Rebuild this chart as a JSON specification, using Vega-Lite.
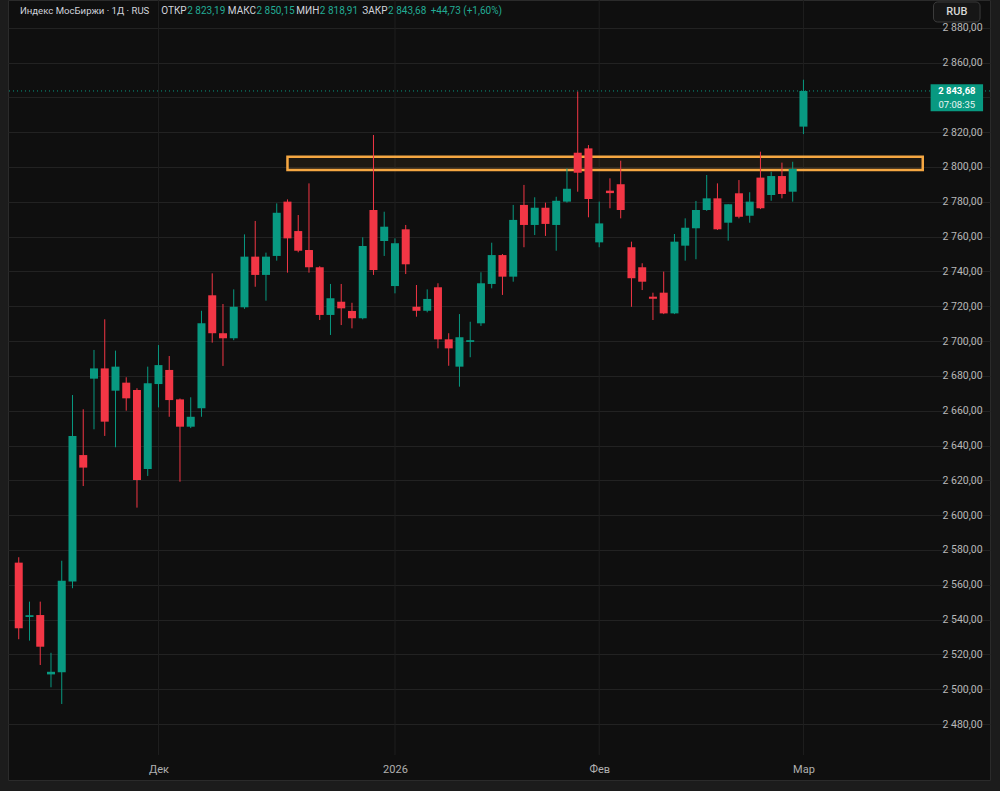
{
  "$schema": "https://vega.github.io/schema/vega-lite/v6.json",
  "width": 982,
  "height": 780,
  "autosize": {"type": "none"},
  "padding": {"left": 8, "top": 0, "right": 10, "bottom": 11},
  "background": "#1c1c1c",
  "config": {
    "view": {"fill": "#0f0f0f", "stroke": "#2b2b2b"},
    "font": "Roboto",
    "text": {"font": "Roboto"}
  },
  "datasets": {
    "candles": [
      {"i": 0, "o": 2572.7, "h": 2575.8, "l": 2528.7, "c": 2535.0},
      {"i": 1, "o": 2541.5, "h": 2550.3, "l": 2527.9, "c": 2542.5},
      {"i": 2, "o": 2542.6, "h": 2550.3, "l": 2513.9, "c": 2524.4},
      {"i": 3, "o": 2508.5, "h": 2520.9, "l": 2501.1, "c": 2510.0},
      {"i": 4, "o": 2509.7, "h": 2573.8, "l": 2491.5, "c": 2562.3},
      {"i": 5, "o": 2561.8, "h": 2669.0, "l": 2558.0, "c": 2645.5},
      {"i": 6, "o": 2634.5, "h": 2660.8, "l": 2616.7, "c": 2627.3},
      {"i": 7, "o": 2678.4, "h": 2694.9, "l": 2649.3, "c": 2684.3},
      {"i": 8, "o": 2684.3, "h": 2712.5, "l": 2645.5, "c": 2653.7},
      {"i": 9, "o": 2671.5, "h": 2694.5, "l": 2639.0, "c": 2685.3},
      {"i": 10, "o": 2676.1, "h": 2679.2, "l": 2660.0, "c": 2667.1},
      {"i": 11, "o": 2671.9, "h": 2672.9, "l": 2604.3, "c": 2620.2},
      {"i": 12, "o": 2626.5, "h": 2685.3, "l": 2622.5, "c": 2675.7},
      {"i": 13, "o": 2675.3, "h": 2697.7, "l": 2661.9, "c": 2686.2},
      {"i": 14, "o": 2683.4, "h": 2691.4, "l": 2656.5, "c": 2666.1},
      {"i": 15, "o": 2666.5, "h": 2667.0, "l": 2619.2, "c": 2650.8},
      {"i": 16, "o": 2650.8, "h": 2667.7, "l": 2650.0, "c": 2656.5},
      {"i": 17, "o": 2661.4, "h": 2717.4, "l": 2656.5, "c": 2710.2},
      {"i": 18, "o": 2726.3, "h": 2738.9, "l": 2699.1, "c": 2704.5},
      {"i": 19, "o": 2704.5, "h": 2721.3, "l": 2685.7, "c": 2701.6},
      {"i": 20, "o": 2701.6, "h": 2729.7, "l": 2700.5, "c": 2719.7},
      {"i": 21, "o": 2719.4, "h": 2761.3, "l": 2718.5, "c": 2748.5},
      {"i": 22, "o": 2748.5, "h": 2769.0, "l": 2731.2, "c": 2738.0},
      {"i": 23, "o": 2738.0, "h": 2750.8, "l": 2723.2, "c": 2748.5},
      {"i": 24, "o": 2748.9, "h": 2779.1, "l": 2746.2, "c": 2773.7},
      {"i": 25, "o": 2780.1, "h": 2781.4, "l": 2739.3, "c": 2759.0},
      {"i": 26, "o": 2763.2, "h": 2772.4, "l": 2751.0, "c": 2751.9},
      {"i": 27, "o": 2752.3, "h": 2790.6, "l": 2739.3, "c": 2742.4},
      {"i": 28, "o": 2742.4, "h": 2743.0, "l": 2712.1, "c": 2715.0},
      {"i": 29, "o": 2715.0, "h": 2732.8, "l": 2703.5, "c": 2724.6},
      {"i": 30, "o": 2722.6, "h": 2732.8, "l": 2709.2, "c": 2718.8},
      {"i": 31, "o": 2717.3, "h": 2722.0, "l": 2707.3, "c": 2713.1},
      {"i": 32, "o": 2713.1, "h": 2759.6, "l": 2712.5, "c": 2754.6},
      {"i": 33, "o": 2775.3, "h": 2818.4, "l": 2738.0, "c": 2740.8},
      {"i": 34, "o": 2757.5, "h": 2774.3, "l": 2748.9, "c": 2765.7},
      {"i": 35, "o": 2731.6, "h": 2759.0, "l": 2727.4, "c": 2756.2},
      {"i": 36, "o": 2764.2, "h": 2766.7, "l": 2738.5, "c": 2744.1},
      {"i": 37, "o": 2719.7, "h": 2732.2, "l": 2714.0, "c": 2717.4},
      {"i": 38, "o": 2717.4, "h": 2729.7, "l": 2716.5, "c": 2724.2},
      {"i": 39, "o": 2730.9, "h": 2733.2, "l": 2695.8, "c": 2701.0},
      {"i": 40, "o": 2701.0, "h": 2704.5, "l": 2685.8, "c": 2695.8},
      {"i": 41, "o": 2685.3, "h": 2715.5, "l": 2673.8, "c": 2702.2},
      {"i": 42, "o": 2699.5, "h": 2711.1, "l": 2690.7, "c": 2700.5},
      {"i": 43, "o": 2710.2, "h": 2739.5, "l": 2708.7, "c": 2733.2},
      {"i": 44, "o": 2732.8, "h": 2756.5, "l": 2730.3, "c": 2749.4},
      {"i": 45, "o": 2749.4, "h": 2750.0, "l": 2726.5, "c": 2737.0},
      {"i": 46, "o": 2737.0, "h": 2778.2, "l": 2734.1, "c": 2769.6},
      {"i": 47, "o": 2778.2, "h": 2789.7, "l": 2753.9, "c": 2766.7},
      {"i": 48, "o": 2766.7, "h": 2782.6, "l": 2760.9, "c": 2776.6},
      {"i": 49, "o": 2776.6, "h": 2779.5, "l": 2760.4, "c": 2767.3},
      {"i": 50, "o": 2766.7, "h": 2782.9, "l": 2751.9, "c": 2780.6},
      {"i": 51, "o": 2780.1, "h": 2799.2, "l": 2779.5, "c": 2787.5},
      {"i": 52, "o": 2808.2, "h": 2843.3, "l": 2785.8, "c": 2796.7},
      {"i": 53, "o": 2810.7, "h": 2812.6, "l": 2771.1, "c": 2781.6},
      {"i": 54, "o": 2756.7, "h": 2780.1, "l": 2753.9, "c": 2767.6},
      {"i": 55, "o": 2786.4, "h": 2793.5, "l": 2776.3, "c": 2785.0},
      {"i": 56, "o": 2790.1, "h": 2803.6, "l": 2770.5, "c": 2775.3},
      {"i": 57, "o": 2753.9, "h": 2757.1, "l": 2719.7, "c": 2736.1},
      {"i": 58, "o": 2742.4, "h": 2744.7, "l": 2729.3, "c": 2734.1},
      {"i": 59, "o": 2725.5, "h": 2727.8, "l": 2712.1, "c": 2724.3},
      {"i": 60, "o": 2727.8, "h": 2739.9, "l": 2715.5, "c": 2715.9},
      {"i": 61, "o": 2715.9, "h": 2761.5, "l": 2715.5, "c": 2757.1},
      {"i": 62, "o": 2754.8, "h": 2770.5, "l": 2746.2, "c": 2765.1},
      {"i": 63, "o": 2764.8, "h": 2780.5, "l": 2747.0, "c": 2775.3},
      {"i": 64, "o": 2775.3, "h": 2795.4, "l": 2774.8, "c": 2782.0},
      {"i": 65, "o": 2782.0, "h": 2790.6, "l": 2763.8, "c": 2764.2},
      {"i": 66, "o": 2768.0, "h": 2778.6, "l": 2757.7, "c": 2778.6},
      {"i": 67, "o": 2784.9, "h": 2792.5, "l": 2770.5, "c": 2771.4},
      {"i": 68, "o": 2772.0, "h": 2785.5, "l": 2768.0, "c": 2780.1},
      {"i": 69, "o": 2793.9, "h": 2808.8, "l": 2775.8, "c": 2776.3},
      {"i": 70, "o": 2783.9, "h": 2797.3, "l": 2780.6, "c": 2794.8},
      {"i": 71, "o": 2794.8, "h": 2802.5, "l": 2782.0, "c": 2784.5},
      {"i": 72, "o": 2785.8, "h": 2803.0, "l": 2780.1, "c": 2798.95},
      {"i": 73, "o": 2823.19, "h": 2850.15, "l": 2818.91, "c": 2843.68}
    ]
  },
  "layer": [
    {
      "data": {"values": [{"i": 13}, {"i": 35}, {"i": 54}, {"i": 73}]},
      "mark": {"type": "rule", "color": "#1f1f1f", "strokeWidth": 1},
      "encoding": {
        "x": {"field": "i", "type": "quantitative", "scale": {"domain": [-0.534, 89.89], "nice": false, "zero": false},
          "axis": {"orient": "bottom", "offset": -30, "values": [13, 35, 54, 73], "tickCount": 10, "title": null, "grid": false, "domain": false, "ticks": false,
            "labelExpr": "datum.value == 13 ? 'Дек' : datum.value == 35 ? '2026' : datum.value == 54 ? 'Фев' : 'Мар'",
            "labelColor": "#b0b0b0", "labelFont": "Roboto", "labelFontSize": 11, "labelPadding": 13}},
        "y": {"datum": 2895.9, "type": "quantitative", "scale": {"domain": [2447.83, 2895.94], "nice": false, "zero": false},
          "axis": {"orient": "right", "offset": -57, "title": null, "domain": false, "ticks": false, "labelOverlap": false, "tickCount": 40,
            "values": [2480, 2500, 2520, 2540, 2560, 2580, 2600, 2620, 2640, 2660, 2680, 2700, 2720, 2740, 2760, 2780, 2800, 2820, 2840, 2860, 2880],
            "labelExpr": "datum.value == 2840 ? '' : replace(replace(format(datum.value, ',.2f'), ',', ' '), '.', ',')",
            "grid": true, "gridColor": "#222222", "gridWidth": 1,
            "labelColor": "#b8b8b8", "labelFont": "Roboto", "labelFontSize": 10.5, "labelPadding": 9}},
        "y2": {"datum": 2462.2}
      }
    },
    {
      "data": {"values": [{"a": 25, "b": 84.1, "lo": 2798.3, "hi": 2805.9}]},
      "mark": {"type": "rect", "fill": "#f5a742", "fillOpacity": 0.07, "stroke": "#f5a742", "strokeWidth": 2.5},
      "encoding": {
        "x": {"field": "a", "type": "quantitative"},
        "x2": {"field": "b"},
        "y": {"field": "lo", "type": "quantitative"},
        "y2": {"field": "hi"}
      }
    },
    {
      "data": {"values": [{"p": 2843.68}]},
      "mark": {"type": "rule", "color": "#089981", "strokeWidth": 1, "strokeDash": [1, 3]},
      "encoding": {
        "y": {"field": "p", "type": "quantitative"}
      }
    },
    {
      "data": {"name": "candles"},
      "mark": {"type": "rule", "strokeWidth": 1},
      "encoding": {
        "x": {"field": "i", "type": "quantitative"},
        "y": {"field": "l", "type": "quantitative"},
        "y2": {"field": "h"},
        "color": {"condition": {"test": "datum.c >= datum.o", "value": "#089981"}, "value": "#f23645"}
      }
    },
    {
      "data": {"name": "candles"},
      "mark": {"type": "bar", "size": 8},
      "encoding": {
        "x": {"field": "i", "type": "quantitative"},
        "y": {"field": "o", "type": "quantitative"},
        "y2": {"field": "c"},
        "color": {"condition": {"test": "datum.c >= datum.o", "value": "#089981"}, "value": "#f23645"}
      }
    },
    {
      "data": {"values": [{}]},
      "mark": {"type": "rect", "fill": "#089981"},
      "encoding": {
        "x": {"datum": 84.83, "type": "quantitative"},
        "x2": {"datum": 89.71},
        "y": {"datum": 2832.0, "type": "quantitative"},
        "y2": {"datum": 2847.6}
      }
    },
    {
      "data": {"values": [{}]},
      "mark": {"type": "text", "text": "2 843,68", "color": "#ffffff", "fontWeight": "bold", "fontSize": 9.5, "align": "center", "baseline": "middle"},
      "encoding": {
        "x": {"datum": 87.27, "type": "quantitative"},
        "y": {"datum": 2843.8, "type": "quantitative"}
      }
    },
    {
      "data": {"values": [{}]},
      "mark": {"type": "text", "text": "07:08:35", "color": "#e8f5f2", "fontSize": 9.5, "align": "center", "baseline": "middle"},
      "encoding": {
        "x": {"datum": 87.27, "type": "quantitative"},
        "y": {"datum": 2835.6, "type": "quantitative"}
      }
    },
    {
      "data": {"values": [{}]},
      "mark": {"type": "rect", "fill": "#161616", "stroke": "#3b3b3b", "strokeWidth": 1, "cornerRadius": 4},
      "encoding": {
        "x": {"datum": 85.1, "type": "quantitative"},
        "x2": {"datum": 89.43},
        "y": {"datum": 2883.3, "type": "quantitative"},
        "y2": {"datum": 2894.8}
      }
    },
    {
      "data": {"values": [{}]},
      "mark": {"type": "text", "text": "RUB", "color": "#d8d8d8", "fontSize": 11, "fontWeight": 500, "align": "center", "baseline": "middle"},
      "encoding": {
        "x": {"datum": 87.27, "type": "quantitative"},
        "y": {"datum": 2888.8, "type": "quantitative"}
      }
    },
    {
      "data": {"values": [{}]},
      "mark": {"type": "text", "text": "Индекс МосБиржи · 1Д · RUS", "color": "#d1d4dc", "fontSize": 9.6, "align": "left", "baseline": "alphabetic"},
      "encoding": {"x": {"datum": 0.11, "type": "quantitative"}, "y": {"datum": 2887.9, "type": "quantitative"}}
    },
    {
      "data": {"values": [{}]},
      "mark": {"type": "text", "text": "ОТКР", "color": "#d1d4dc", "fontSize": 10, "align": "right", "baseline": "alphabetic"},
      "encoding": {"x": {"datum": 15.62, "type": "quantitative"}, "y": {"datum": 2887.9, "type": "quantitative"}}
    },
    {
      "data": {"values": [{}]},
      "mark": {"type": "text", "text": "2 823,19", "color": "#22ab94", "fontSize": 10, "align": "left", "baseline": "alphabetic"},
      "encoding": {"x": {"datum": 15.67, "type": "quantitative"}, "y": {"datum": 2887.9, "type": "quantitative"}}
    },
    {
      "data": {"values": [{}]},
      "mark": {"type": "text", "text": "МАКС", "color": "#d1d4dc", "fontSize": 10, "align": "right", "baseline": "alphabetic"},
      "encoding": {"x": {"datum": 22.07, "type": "quantitative"}, "y": {"datum": 2887.9, "type": "quantitative"}}
    },
    {
      "data": {"values": [{}]},
      "mark": {"type": "text", "text": "2 850,15", "color": "#22ab94", "fontSize": 10, "align": "left", "baseline": "alphabetic"},
      "encoding": {"x": {"datum": 22.12, "type": "quantitative"}, "y": {"datum": 2887.9, "type": "quantitative"}}
    },
    {
      "data": {"values": [{}]},
      "mark": {"type": "text", "text": "МИН", "color": "#d1d4dc", "fontSize": 10, "align": "right", "baseline": "alphabetic"},
      "encoding": {"x": {"datum": 27.96, "type": "quantitative"}, "y": {"datum": 2887.9, "type": "quantitative"}}
    },
    {
      "data": {"values": [{}]},
      "mark": {"type": "text", "text": "2 818,91", "color": "#22ab94", "fontSize": 10, "align": "left", "baseline": "alphabetic"},
      "encoding": {"x": {"datum": 28.01, "type": "quantitative"}, "y": {"datum": 2887.9, "type": "quantitative"}}
    },
    {
      "data": {"values": [{}]},
      "mark": {"type": "text", "text": "ЗАКР", "color": "#d1d4dc", "fontSize": 10, "align": "right", "baseline": "alphabetic"},
      "encoding": {"x": {"datum": 34.31, "type": "quantitative"}, "y": {"datum": 2887.9, "type": "quantitative"}}
    },
    {
      "data": {"values": [{}]},
      "mark": {"type": "text", "text": "2 843,68", "color": "#22ab94", "fontSize": 10, "align": "left", "baseline": "alphabetic"},
      "encoding": {"x": {"datum": 34.36, "type": "quantitative"}, "y": {"datum": 2887.9, "type": "quantitative"}}
    },
    {
      "data": {"values": [{}]},
      "mark": {"type": "text", "text": "+44,73 (+1,60%)", "color": "#22ab94", "fontSize": 10, "align": "left", "baseline": "alphabetic"},
      "encoding": {"x": {"datum": 38.32, "type": "quantitative"}, "y": {"datum": 2887.9, "type": "quantitative"}}
    }
  ]
}
